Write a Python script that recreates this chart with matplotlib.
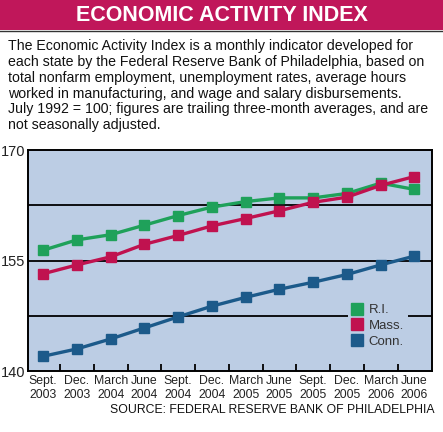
import matplotlib.pyplot as plt
from matplotlib.lines import Line2D
from matplotlib.patches import Rectangle

# Data
months = ["Sept.\n2003", "Dec.\n2003", "March\n2004", "June\n2004", "Sept.\n2004", "Dec.\n2004",
          "March\n2005", "June\n2005", "Sept.\n2005", "Dec.\n2005", "March\n2006", "June\n2006"]
ri = [156.4, 157.8, 158.5, 159.8, 161.1, 162.25, 163.0, 163.5, 163.5, 164.1, 165.5, 164.65]
mass = [153.2, 154.4, 155.5, 157.2, 158.4, 159.7, 160.7, 161.75, 162.9, 163.6, 165.2, 166.4]
conn = [142.0, 143.0, 144.35, 145.85, 147.35, 148.8, 150.0, 151.1, 152.05, 153.1, 154.4, 155.6]
series_names = ["R.I.", "Mass.", "Conn."]
yticks = [140, 155, 170]
gridlines = [147.5, 155, 162.5]

colors = ["#1fa15a", "#c0124f", "#1c5a8a"]
bg = "#bccde4"
band = "#c0175a"
font = ["Liberation Sans", "DejaVu Sans"]

fig = plt.figure(figsize=(4.43, 4.32), dpi=100)

# Header band
fig.patches.append(Rectangle((0, 1 - 30 / 432), 1, 30 / 432, transform=fig.transFigure,
                             facecolor=band, edgecolor="none"))
fig.lines.append(Line2D([0, 1], [1 - 30.5 / 432] * 2, transform=fig.transFigure,
                        color="#333333", lw=1))
fig.text(0.5, 1 - 15.5 / 432, "ECONOMIC ACTIVITY INDEX", color="white", fontsize=15.5,
         fontweight="bold", family=font, ha="center", va="center")

desc = ("The Economic Activity Index is a monthly indicator developed for\n"
        "each state by the Federal Reserve Bank of Philadelphia, based on\n"
        "total nonfarm employment, unemployment rates, average hours\n"
        "worked in manufacturing, and wage and salary disbursements.\n"
        "July 1992 = 100; figures are trailing three-month averages, and are\n"
        "not seasonally adjusted.")
fig.text(8 / 443, 1 - 39 / 432, desc, fontsize=10.2, family=font, color="#111111",
         ha="left", va="top", linespacing=1.17)

ax = fig.add_axes([28 / 443, 1 - 371 / 432, 404 / 443, 221 / 432])
ax.set_facecolor(bg)
x = list(range(len(months)))

for g in gridlines:
    ax.axhline(g, color="black", lw=1.3, zorder=1)

for vals, c in zip([ri, mass, conn], colors):
    ax.plot(x, vals, color=c, lw=2.4, marker="s", markersize=7.5, zorder=3)

ax.set_xlim(-0.45, 11.52)
ax.set_ylim(140, 170)
ax.set_yticks(yticks)
ax.set_yticklabels([str(v) for v in yticks], fontsize=10.5, family=font, color="#222222")
ax.tick_params(axis="y", length=0, pad=2)
ax.set_xticks([i + 0.5 for i in range(len(months) - 1)])
ax.set_xticklabels([])
ax.tick_params(axis="x", direction="in", length=5, width=1.3, color="black")
ax.set_xticks(x, minor=True)
ax.set_xticklabels(months, minor=True, fontsize=8.8, family=font, color="#222222",
                   linespacing=1.25)
ax.tick_params(axis="x", which="minor", length=0, pad=3)
for s in ax.spines.values():
    s.set_linewidth(1.4)
    s.set_color("black")

handles = [Line2D([], [], ls="none", marker="s", markersize=8, color=c) for c in colors]
leg = ax.legend(handles, series_names, loc="center", bbox_to_anchor=(0.866, 0.204),
                frameon=True, facecolor=bg, edgecolor="none", framealpha=1,
                handlelength=0.8, handletextpad=0.5, labelspacing=0.25,
                borderpad=0.3, prop={"family": font, "size": 9.5})
leg.set_zorder(5)
for t in leg.get_texts():
    t.set_color("#333333")

fig.text(435 / 443, 1 - 410 / 432, "SOURCE: FEDERAL RESERVE BANK OF PHILADELPHIA",
         fontsize=8.8, family=font, color="#111111", ha="right", va="center")

fig.savefig("out.png", dpi=100)
